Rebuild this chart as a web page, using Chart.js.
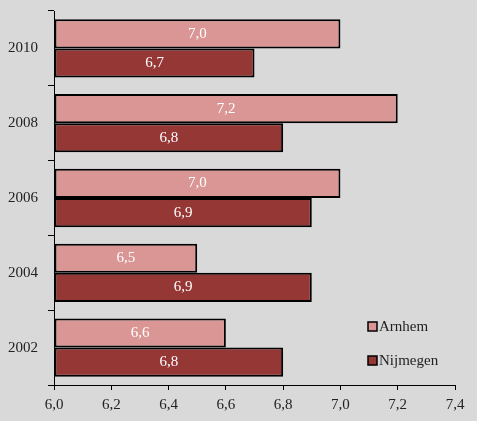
<!DOCTYPE html>
<html>
<head>
<meta charset="utf-8">
<script src="https://cdn.jsdelivr.net/npm/chart.js@4"></script>
<style>
    body { margin: 0; background: #d9d9d9; }
    canvas { display: block; }
</style>
</head>
<body>
<canvas id="chart" width="477" height="421"></canvas>
<script>
const years = ['2010', '2008', '2006', '2004', '2002'];
const arnhem = [7.0, 7.2, 7.0, 6.5, 6.6];
const nijmegen = [6.7, 6.8, 6.9, 6.9, 6.8];
const seriesNames = ['Arnhem', 'Nijmegen'];

const FONT = '"Liberation Serif", "DejaVu Serif", serif';

function comma(v) {
    return v.toFixed(1).replace('.', ',');
}

// grey page behind everything
const background = {
    id: 'background',
    beforeDraw(chart) {
        const c = chart.ctx;
        c.save();
        c.fillStyle = '#d9d9d9';
        c.fillRect(0, 0, chart.width, chart.height);
        c.restore();
    }
};

// values written in the middle of each bar
const barLabels = {
    id: 'barLabels',
    afterDatasetsDraw(chart) {
        const c = chart.ctx;
        c.save();
        c.font = '15px ' + FONT;
        c.fillStyle = '#ffffff';
        c.textAlign = 'center';
        c.textBaseline = 'middle';
        chart.data.datasets.forEach((ds, i) => {
            chart.getDatasetMeta(i).data.forEach((bar, j) => {
                c.fillText(comma(ds.data[j]), (bar.x + bar.base) / 2, bar.y);
            });
        });
        c.restore();
    }
};

// small legend inside the plot, bottom right
const legendBox = {
    id: 'legendBox',
    afterDraw(chart) {
        const c = chart.ctx;
        c.save();
        c.font = '15px ' + FONT;
        c.textBaseline = 'middle';
        chart.data.datasets.forEach((ds, i) => {
            const y = 326 + i * 34;
            c.fillStyle = ds.backgroundColor;
            c.fillRect(368, y - 4, 9, 9);
            c.strokeStyle = '#000';
            c.lineWidth = 1.5;
            c.strokeRect(368, y - 4, 9, 9);
            c.fillStyle = '#222';
            c.fillText(ds.label, 379, y + 1);
        });
        c.restore();
    }
};

const ctx = document.getElementById('chart').getContext('2d');
const chart = new Chart(ctx, {
    type: 'bar',
    data: {
        labels: years,
        datasets: [{
            label: seriesNames[0],
            data: arnhem,
            base: 6,
            backgroundColor: '#d99694',
            borderColor: '#000',
            borderWidth: 2,
            borderSkipped: false
        }, {
            label: seriesNames[1],
            data: nijmegen,
            base: 6,
            backgroundColor: '#953735',
            borderColor: '#000',
            borderWidth: 2,
            borderSkipped: false
        }]
    },
    options: {
        indexAxis: 'y',
        responsive: false,
        animation: false,
        events: [],
        layout: {
            padding: { top: 11, right: 22, left: 0, bottom: 0 }
        },
        datasets: {
            bar: {
                categoryPercentage: 0.78,
                barPercentage: 1
            }
        },
        scales: {
            x: {
                min: 6,
                max: 7.4,
                grid: {
                    drawOnChartArea: false,
                    drawTicks: true,
                    tickLength: 5,
                    color: '#000'
                },
                border: { color: '#000', width: 1 },
                ticks: {
                    stepSize: 0.2,
                    padding: 6,
                    color: '#222',
                    font: { family: FONT, size: 15 },
                    callback: v => comma(v)
                },
                afterFit(scale) { scale.height = 36; }
            },
            y: {
                grid: {
                    drawOnChartArea: false,
                    tickLength: 6,
                    color: '#000',
                    offset: true
                },
                border: { color: '#000', width: 1 },
                ticks: {
                    padding: 10,
                    color: '#222',
                    font: { family: FONT, size: 15 }
                },
                afterFit(scale) {
                    scale.width = 54;
                    scale.paddingTop = 0;
                    scale.paddingBottom = 0;
                }
            }
        },
        plugins: {
            legend: { display: false },
            tooltip: { enabled: false }
        }
    },
    plugins: [background, barLabels, legendBox]
});
</script>
</body>
</html>
